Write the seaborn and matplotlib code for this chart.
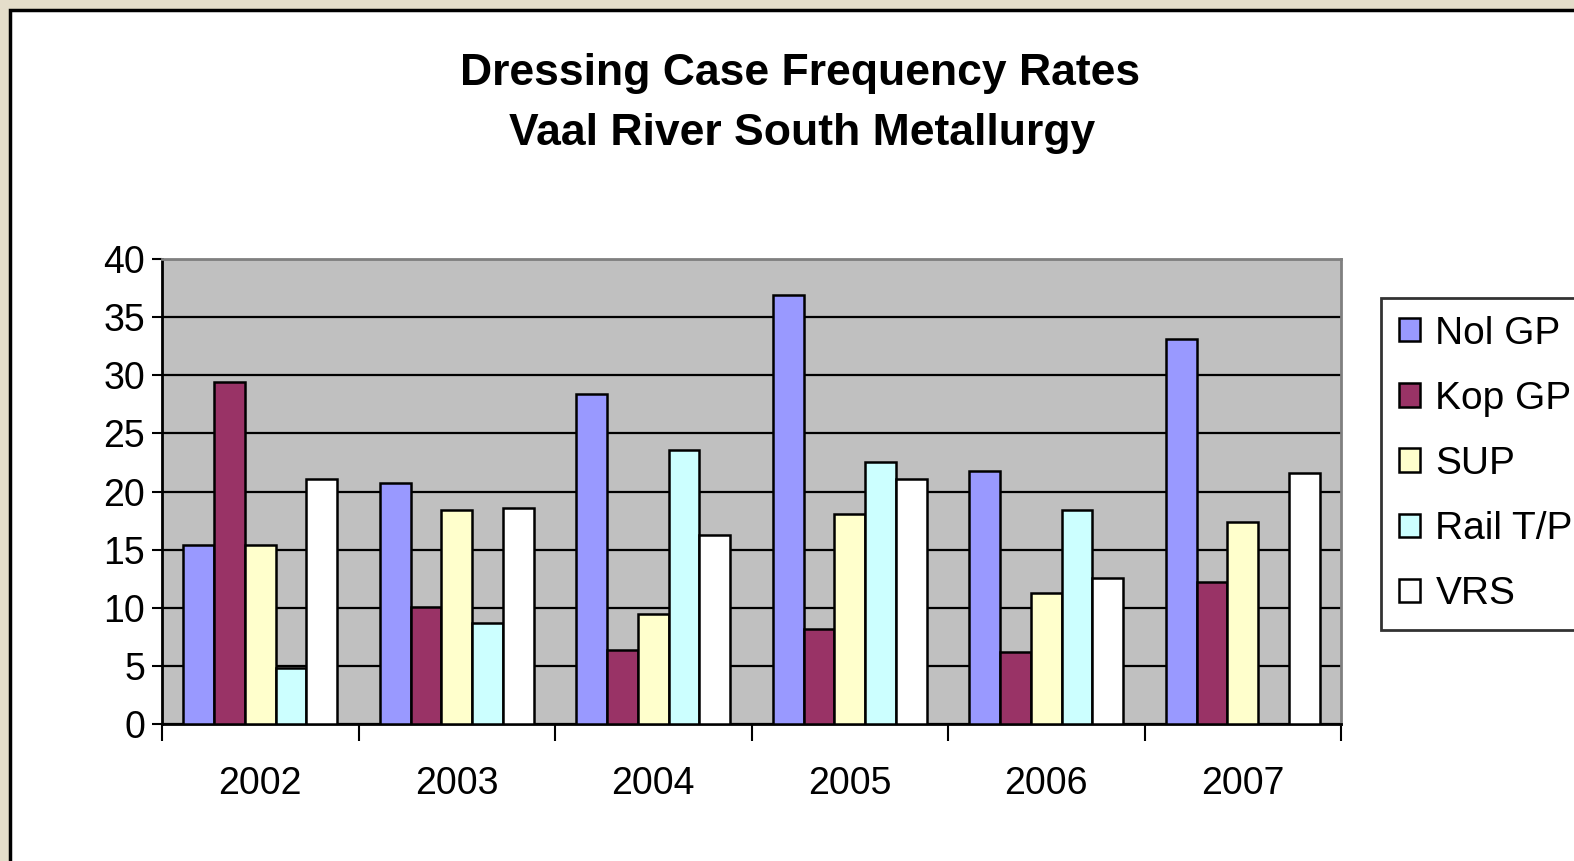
import numpy as np
import pandas as pd
import seaborn as sns
import matplotlib.pyplot as plt
from matplotlib.patches import Rectangle, Patch

years = ['2002', '2003', '2004', '2005', '2006', '2007']
nol_gp = [15.4, 20.7, 28.4, 36.9, 21.8, 33.1]
kop_gp = [29.4, 10.1, 6.4, 8.2, 6.2, 12.2]
sup = [15.4, 18.4, 9.5, 18.1, 11.3, 17.4]
rail_tp = [4.8, 8.7, 23.6, 22.5, 18.4, np.nan]
vrs = [21.1, 18.6, 16.3, 21.1, 12.6, 21.6]

series = ['Nol GP', 'Kop GP', 'SUP', 'Rail T/P', 'VRS']
colors = ['#9999FF', '#993366', '#FFFFCC', '#CCFFFF', '#FFFFFF']

df = pd.DataFrame({'year': years, 'Nol GP': nol_gp, 'Kop GP': kop_gp,
                   'SUP': sup, 'Rail T/P': rail_tp, 'VRS': vrs})
df_long = df.melt(id_vars='year', var_name='site', value_name='rate')

sns.set_style('white')
plt.rcParams['font.family'] = ['Liberation Sans', 'DejaVu Sans']
plt.rcParams['text.color'] = 'black'
plt.rcParams['xtick.color'] = 'black'
plt.rcParams['ytick.color'] = 'black'

W, H = 1574, 861
fig = plt.figure(figsize=(W / 100, H / 100), dpi=100)
fig.patch.set_facecolor('#E4DDCA')

# white chart area with black frame
fig.patches.append(Rectangle((10 / W, -0.05), 1.1, 1 - 10 / H + 0.05,
                             transform=fig.transFigure, facecolor='white',
                             edgecolor='black', linewidth=2.5, zorder=-5))

ax = fig.add_axes([162 / W, 1 - 724 / H, (1341 - 162) / W, (724 - 259) / H])
ax.set_zorder(2)
ax.set_facecolor('#C0C0C0')

sns.barplot(data=df_long, x='year', y='rate', hue='site', hue_order=series,
            palette=dict(zip(series, colors)), saturation=1,
            width=5 / 6.4, gap=0, edgecolor='black', linewidth=1.8,
            ax=ax, legend=False, zorder=3)

ax.set_ylim(0, 40)
ax.set_xlim(-0.5, 5.5)
ax.set_yticks(range(0, 41, 5))
ax.yaxis.grid(True, color='black', linewidth=1.6, zorder=1)
ax.set_axisbelow(True)
ax.tick_params(axis='y', which='major', length=7, width=1.5, direction='out',
               labelsize=27, pad=5, left=True)

ax.set_xticks(np.arange(-0.5, 6, 1))
ax.set_xticklabels([])
ax.tick_params(axis='x', which='major', length=12, width=1.5, direction='out',
               bottom=True)
ax.set_xticks(range(6), minor=True)
ax.set_xticklabels(years, minor=True)
ax.tick_params(axis='x', which='minor', length=0, labelsize=27, pad=30)
ax.set_xlabel('')
ax.set_ylabel('')

for side in ['top', 'right']:
    ax.spines[side].set_color('#808080')
    ax.spines[side].set_linewidth(2)
for side in ['left', 'bottom']:
    ax.spines[side].set_color('black')
    ax.spines[side].set_linewidth(2)

fig.text(800 / W, 1 - 73 / H, 'Dressing Case Frequency Rates', ha='center',
         va='center', fontsize=32, fontweight='bold')
fig.text(802 / W, 1 - 134 / H, 'Vaal River South Metallurgy', ha='center',
         va='center', fontsize=32, fontweight='bold')

handles = [Patch(facecolor=c, edgecolor='black', linewidth=1.8) for c in colors]
leg = fig.legend(handles, series, loc='upper left',
                 bbox_to_anchor=(1381 / W, 1 - 298 / H), fontsize=28,
                 frameon=True, fancybox=False, edgecolor='black',
                 handlelength=0.55, handleheight=0.55, handletextpad=0.4,
                 labelspacing=0.75, borderpad=0.45, borderaxespad=0)
leg.get_frame().set_linewidth(2)
leg.set_zorder(3)

fig.savefig('out.png', dpi=100, facecolor=fig.get_facecolor())
